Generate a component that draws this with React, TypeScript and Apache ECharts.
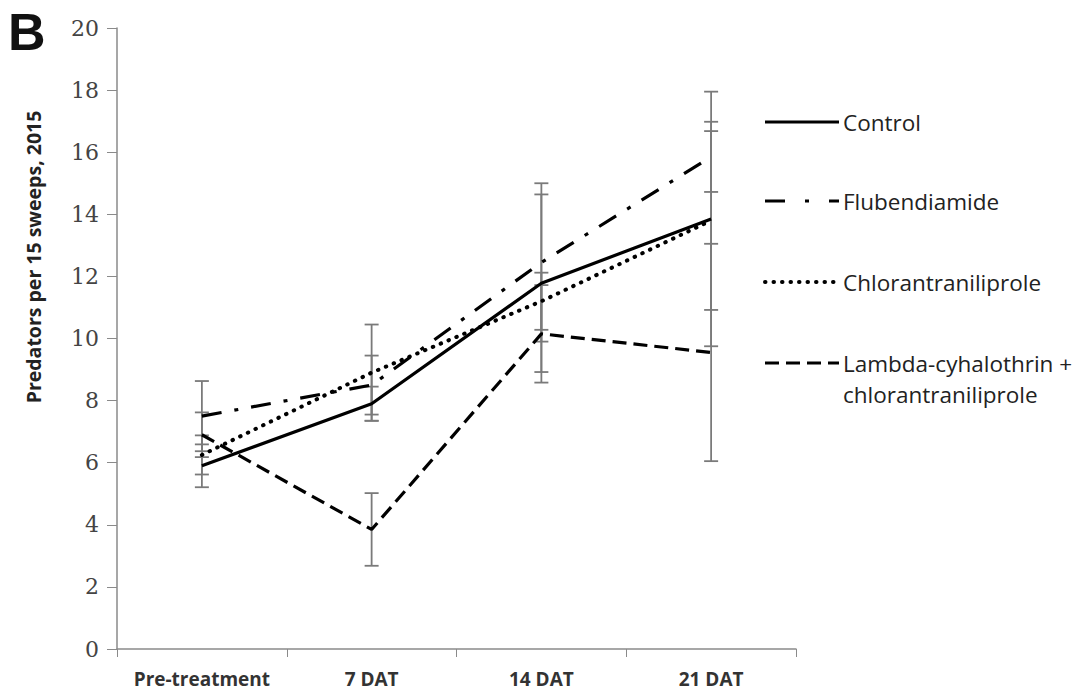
import React, { useEffect, useRef } from "react";
import * as echarts from "echarts";

const categories = ["Pre-treatment", "7 DAT", "14 DAT", "21 DAT"];
const seriesNames = [
  "Control",
  "Flubendiamide",
  "Chlorantraniliprole",
  "Lambda-cyhalothrin + chlorantraniliprole",
];
const controlMean = [5.9, 7.9, 11.78, 13.85];
const controlSE = [0.69, 0.55, 2.86, 4.1];
const flubMean = [7.5, 8.5, 12.45, 15.85];
const flubSE = [1.13, 0.95, 2.55, 1.13];
const chlorMean = [6.25, 8.9, 11.2, 13.8];
const chlorSE = [0.63, 1.55, 0.92, 2.88];
const lambdaMean = [6.9, 3.85, 10.15, 9.55];
const lambdaSE = [0.72, 1.17, 1.57, 3.5];
const yTicks = { min: 0, max: 20, interval: 2 };

const means = [controlMean, flubMean, chlorMean, lambdaMean];
const ses = [controlSE, flubSE, chlorSE, lambdaSE];
const dashTypes: any[] = ["solid", [20, 13, 4, 13], [0.5, 8], [14, 7]];

export default function App() {
  const ref = useRef<HTMLDivElement>(null);
  useEffect(() => {
    document.body.style.margin = "0";
    const chart = echarts.init(ref.current!, null, { renderer: "svg" });
    const errSeries = means.map((m, si) => ({
      type: "custom",
      name: "err" + si,
      z: 1,
      silent: true,
      data: m.map((v, i) => [i, v - ses[si][i], v + ses[si][i]]),
      encode: { x: 0, y: [1, 2] },
      renderItem: (params: any, api: any) => {
        const lo = api.coord([api.value(0), api.value(1)]);
        const hi = api.coord([api.value(0), api.value(2)]);
        const hw = 7;
        const st = { stroke: "#7a7a7a", lineWidth: 1.8 };
        return {
          type: "group",
          children: [
            { type: "line", shape: { x1: lo[0], y1: hi[1], x2: lo[0], y2: lo[1] }, style: st },
            { type: "line", shape: { x1: lo[0] - hw, y1: hi[1], x2: lo[0] + hw, y2: hi[1] }, style: st },
            { type: "line", shape: { x1: lo[0] - hw, y1: lo[1], x2: lo[0] + hw, y2: lo[1] }, style: st },
          ],
        };
      },
    }));
    const lineSeries = means.map((m, si) => ({
      type: "line",
      name: seriesNames[si],
      data: m,
      z: 3,
      symbol: "none",
      lineStyle: {
        color: "#000",
        width: si === 2 ? 4 : 3.2,
        type: dashTypes[si],
        cap: si === 2 ? "round" : "butt",
      },
    }));
    const legendY = [122, 201, 282, 363];
    const legendGraphics: any[] = [];
    seriesNames.forEach((n, i) => {
      legendGraphics.push({
        type: "line",
        shape: { x1: 765, y1: legendY[i], x2: 839, y2: legendY[i] },
        style: {
          stroke: "#000",
          lineWidth: i === 2 ? 4 : 3.2,
          lineDash: i === 0 ? null : i === 1 ? [20, 20, 4, 20] : dashTypes[i],
          lineCap: i === 2 ? "round" : "butt",
        },
      });
    });
    const legendTexts = ["Control", "Flubendiamide", "Chlorantraniliprole", "Lambda-cyhalothrin +\nchlorantraniliprole"];
    legendTexts.forEach((t, i) => {
      legendGraphics.push({
        type: "text",
        x: 843,
        y: legendY[i] - 15,
        style: {
          text: t,
          fill: "#222",
          font: '22.5px "Open Sans"',
          lineHeight: 31,
          textVerticalAlign: "top",
        },
      });
    });
    chart.setOption({
      animation: false,
      grid: { left: 117, right: 291, top: 28, bottom: 49, containLabel: false },
      xAxis: {
        type: "category",
        data: categories,
        boundaryGap: true,
        axisLine: { lineStyle: { color: "#8a8a8a", width: 1.5 } },
        axisTick: { show: true, interval: 0, length: 8, lineStyle: { color: "#8a8a8a" } },
        axisLabel: {
          interval: 0,
          hideOverlap: false,
          color: "#333",
          fontFamily: "Open Sans",
          fontWeight: "bold",
          fontSize: 19,
          margin: 20,
        },
      },
      yAxis: {
        type: "value",
        min: yTicks.min,
        max: yTicks.max,
        interval: yTicks.interval,
        splitLine: { show: false },
        axisLine: { show: true, lineStyle: { color: "#8a8a8a", width: 1.5 } },
        axisTick: { show: true, length: 10, lineStyle: { color: "#8a8a8a" } },
        axisLabel: { color: "#444", fontFamily: "DejaVu Serif", fontSize: 22, margin: 18 },
      },
      graphic: [
        {
          type: "text",
          x: 8,
          y: 6,
          style: { text: "B", font: 'bold 52px "Liberation Sans"', fill: "#111", textVerticalAlign: "top" },
        },
        {
          type: "text",
          x: 33,
          y: 257,
          rotation: Math.PI / 2,
          style: {
            text: "Predators per 15 sweeps, 2015",
            font: 'bold 19.5px "Open Sans"',
            fill: "#222",
            textAlign: "center",
            textVerticalAlign: "middle",
          },
        },
        ...legendGraphics,
      ],
      series: [...errSeries, ...lineSeries],
    });
    return () => chart.dispose();
  }, []);
  return <div ref={ref} style={{ width: 1087, height: 698 }} />;
}
